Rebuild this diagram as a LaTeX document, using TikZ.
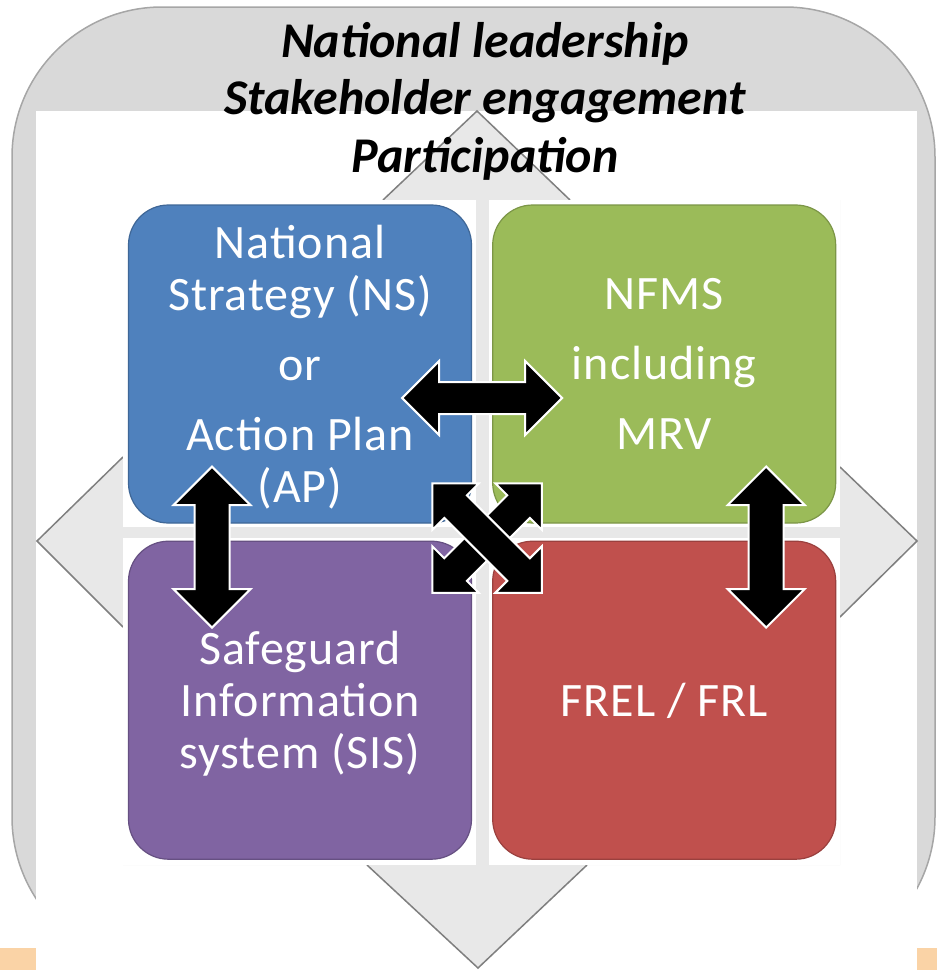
\documentclass[tikz,border=0pt]{standalone}
\usepackage{fontspec}
\setmainfont{Carlito}
\newfontfamily\boxfont{Carlito}[LetterSpace=2]
\usepackage{tikz}
\usetikzlibrary{shapes.arrows,positioning,calc}
\definecolor{framegray}{HTML}{D9D9D9}
\definecolor{frameline}{HTML}{A6A6A6}
\definecolor{quadgray}{HTML}{E8E8E8}
\definecolor{quadline}{HTML}{7F7F7F}
\definecolor{peach}{HTML}{FAD3A6}
\definecolor{nsblue}{HTML}{4F81BD}
\definecolor{nfmsgreen}{HTML}{9BBB59}
\definecolor{sispurple}{HTML}{8064A2}
\definecolor{frelred}{HTML}{C0504D}
\tikzset{
	box/.style={
			draw=#1!80!black, line width=1.2pt, fill=#1,
			rounded corners=40pt, minimum width=343pt, minimum height=318pt,
			inner sep=0pt, text depth=0pt, text=white, align=center,
			font=\boxfont\fontsize{48}{52}\selectfont
		},
	headline/.style={anchor=base, font=\fontsize{50}{57}\selectfont\bfseries\itshape},
	blockarrow/.style={
			double arrow, fill=black, draw=white, line width=2pt,
			inner xsep=0pt, inner ysep=#1, minimum width=0pt,
			double arrow head extend=21pt
		},
	blockarrow/.default=15pt
}

\begin{document}
\begin{tikzpicture}[x=1pt,y=-1pt]
		\useasboundingbox (0,0) rectangle (937,970);

		% Frame behind everything
		\draw[fill=framegray, draw=frameline, line width=1.5pt, rounded corners=150pt] (12,7) rectangle (935,967);
		\fill[white] (36,111) rectangle (917,970);
		\fill[peach] (0,948) rectangle (36,970);
		\fill[peach] (917,948) rectangle (937,970);

		% Quad arrow in the background
		\fill[quadgray] (383,200) -- (477,111) -- (570,200) -- (840,200) -- (840,467) -- (917,541)
			-- (840,617) -- (840,865) -- (587,865) -- (478,968) -- (367,865) -- (123,865)
			-- (123,627) -- (37,541) -- (123,457) -- cycle;
		\draw[quadline, line width=1.5pt] (383,200) -- (477,111) -- (570,200);
		\draw[quadline, line width=1.5pt] (840,467) -- (917,541) -- (840,617);
		\draw[quadline, line width=1.5pt] (587,865) -- (478,968) -- (367,865);
		\draw[quadline, line width=1.5pt] (123,627) -- (37,541) -- (123,457);
		\foreach \xa/\ya/\xb/\yb in {123/200/476/527, 489/200/840/527, 123/538/476/865, 489/538/840/865} {
			\fill[white] (\xa,\ya) rectangle (\xb,\yb);
		}

		% The four boxes
		\node[box=nsblue] (ns) at (300,364) {National\\Strategy (NS)\\[18pt]or\\[18pt]Action Plan\\(AP)};
		\node[box=nfmsgreen, right=20pt of ns] (nfms) {NFMS\\[18pt]including\\[18pt]MRV};
		\node[box=sispurple, below=17pt of ns] (sis) {Safeguard\\Information\\system (SIS)};
		\node[box=frelred, right=20pt of sis] (frel) {FREL / FRL};

		% Heading
		\node[headline] (lead) at (485,57) {National leadership};
		\node[headline] (engage) at (485,114) {Stakeholder engagement};
		\node[headline] (particip) at (485,172) {Participation};

		% Links between the boxes
		\node[blockarrow, minimum height=160pt] (nsnfms) at ($(ns.east)!.5!(nfms.west)+(0,34)$) {};
		\node[blockarrow=16.5pt, minimum height=161pt, rotate=90] (nssis) at ($(ns.south)!.5!(sis.north)+(-88,15)$) {};
		\node[blockarrow=16.5pt, minimum height=161pt, rotate=90] (nfmsfrel) at ($(nfms.south)!.5!(frel.north)+(102,15)$) {};
		\node[blockarrow, double arrow head extend=17pt, minimum height=155pt, rotate=45] (nsfrel) at ($(ns.south east)!.5!(frel.north west)+(5,6)$) {};
		\node[blockarrow, double arrow head extend=17pt, minimum height=155pt, rotate=-45] (nfmssis) at ($(ns.south east)!.5!(frel.north west)+(5,6)$) {};
\end{tikzpicture}
\end{document}
